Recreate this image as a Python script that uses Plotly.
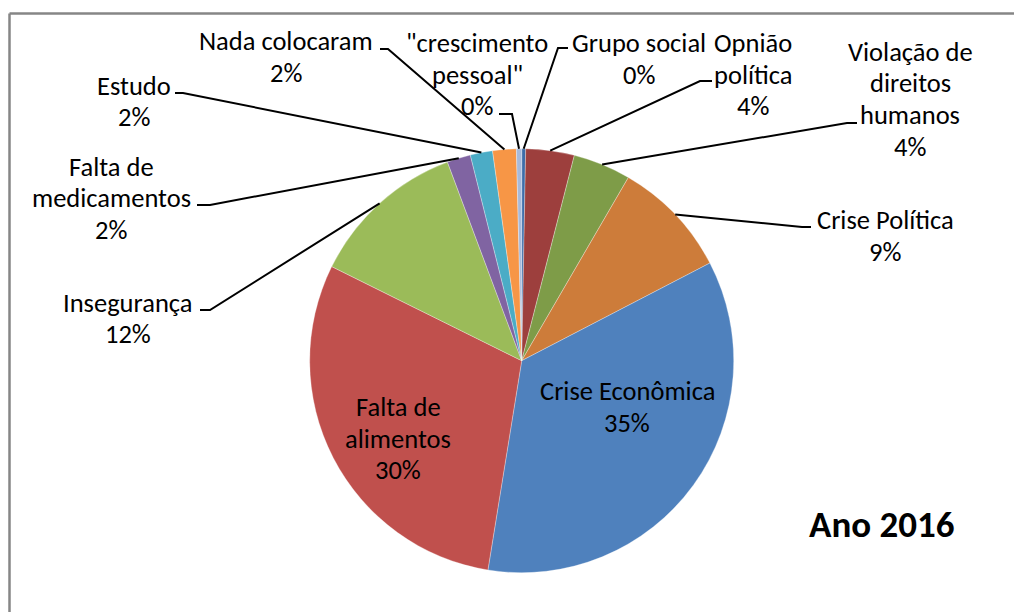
import math
import plotly.graph_objects as go

W, H = 1014, 612

# ---- data (clockwise from 12 o'clock) ----
categories = ["Grupo social", "Opnião política", "Violação de direitos humanos",
              "Crise Política", "Crise Econômica", "Falta de alimentos",
              "Insegurança", "Falta de medicamentos", "Estudo",
              "Nada colocaram", "\"crescimento pessoal\""]
values = [0.3, 3.7, 4.4, 9.0, 35.2, 29.8, 12.0, 1.8, 1.7, 1.8, 0.4]
display_labels = ["Grupo social", "Opnião<br>política", "Violação de<br>direitos<br>humanos",
                  "Crise Política", "Crise Econômica", "Falta de<br>alimentos",
                  "Insegurança", "Falta de<br>medicamentos", "Estudo",
                  "Nada colocaram", "\"crescimento<br>pessoal\""]
colors = ["#3D6DA9", "#9D3F3D", "#7E9C48", "#CD7C3A", "#4F81BD", "#C0504D",
          "#9BBB59", "#8064A2", "#4BACC6", "#F79646", "#A7BADB"]
chart_title = "Ano 2016"

# ---- layout geometry (pixels) ----
CX, CY, R = 521.7, 360.7, 212.0
FONT = "Calibri, Carlito, Lato, sans-serif"
FS = 26.5
LS = 31.5

def px(x):
    return x / W

def py(y):
    return 1 - y / H

fig = go.Figure()
fig.add_trace(go.Pie(
    labels=categories, values=values, sort=False, direction="clockwise",
    rotation=0, textinfo="none", hoverinfo="label+percent",
    marker=dict(colors=colors, line=dict(color="rgba(255,255,255,0.5)", width=0.6)),
    domain=dict(x=[px(CX - R), px(CX + R)], y=[py(CY + R), py(CY - R)]),
    showlegend=False,
))

total = sum(values)
pcts = [round(v / total * 100) for v in values]
cum = 0.0
mids = []
for v in values:
    mids.append((cum + v / 2) / total * 360.0)
    cum += v

# label placement: (text center x, first line center y, elbow, end)
placement = {
    "Grupo social": (639, 43, (558, 48), (568, 48)),
    "Opnião política": (753, 43, (700, 81), (712, 81)),
    "Violação de direitos humanos": (910, 52, (847, 123), (857, 123)),
    "Crise Política": (885, 220, (802, 227), (811, 227)),
    "Crise Econômica": (627, 391, None, None),
    "Falta de alimentos": (398, 407, None, None),
    "Insegurança": (128, 303, (210, 310), (200, 310)),
    "Falta de medicamentos": (111, 167, (210, 205), (197, 205)),
    "Estudo": (134, 86, (183, 93), (175, 93)),
    "Nada colocaram": (286, 41, (388, 49), (380, 49)),
    "\"crescimento pessoal\"": (477, 43, (512, 114), (499, 114)),
}

shapes = []
annotations = []
for cat, lab, p, m in zip(categories, display_labels, pcts, mids):
    tx, ty, elbow, end = placement[cat]
    lines = lab.split("<br>") + [f"{p}%"]
    for i, line in enumerate(lines):
        annotations.append(dict(x=px(tx), y=py(ty + i * LS), xref="paper", yref="paper",
                                text=line, showarrow=False, xanchor="center",
                                yanchor="middle",
                                font=dict(family=FONT, size=FS, color="black")))
    if elbow is not None:
        a = math.radians(m)
        ex, ey = CX + R * math.sin(a), CY - R * math.cos(a)
        path = (f"M {px(ex)} {py(ey)} L {px(elbow[0])} {py(elbow[1])} "
                f"L {px(end[0])} {py(end[1])}")
        shapes.append(dict(type="path", path=path, xref="paper", yref="paper",
                           line=dict(color="black", width=2)))

annotations.append(dict(x=px(882), y=py(524), xref="paper", yref="paper",
                        text=f"<b>{chart_title}</b>", showarrow=False,
                        xanchor="center", yanchor="middle",
                        font=dict(family=FONT, size=37, color="black")))

# outer frame
shapes.append(dict(type="line", xref="paper", yref="paper",
                   x0=px(9.5), y0=py(13.5), x1=px(1016), y1=py(13.5),
                   line=dict(color="#868686", width=2.5)))
shapes.append(dict(type="line", xref="paper", yref="paper",
                   x0=px(9.5), y0=py(13.5), x1=px(9.5), y1=py(620),
                   line=dict(color="#868686", width=2.5)))

fig.update_layout(width=W, height=H, margin=dict(l=0, r=0, t=0, b=0),
                  paper_bgcolor="white", plot_bgcolor="white",
                  shapes=shapes, annotations=annotations)

fig.write_html("out.html", config={"displayModeBar": False},
               post_script="document.body.style.margin='0';")
